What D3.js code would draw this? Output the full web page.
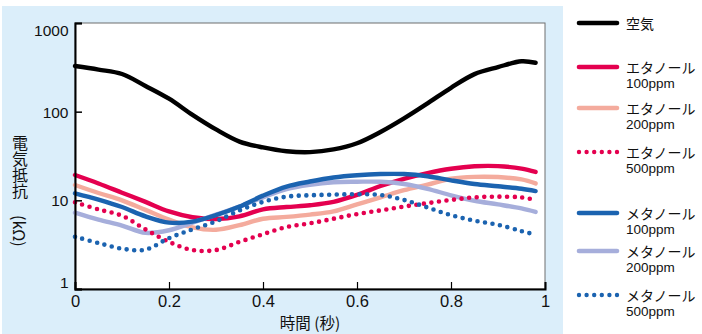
<!DOCTYPE html>
<html><head><meta charset="utf-8">
<script src="https://cdn.jsdelivr.net/npm/d3@7"></script>
<style>
html,body{margin:0;padding:0;background:#fff;}
svg{display:block;font-family:"Liberation Sans","Noto Sans CJK JP",sans-serif;}
.jp{font-family:"Noto Sans CJK JP","Liberation Sans",sans-serif;}
.vt{writing-mode:vertical-rl;text-orientation:mixed;}
</style></head>
<body><svg id="c" width="702" height="334"></svg>
<script>
// ---- data ----
const times = [0,0.05,0.1,0.15,0.2,0.25,0.3,0.35,0.4,0.45,0.5,0.55,0.6,0.65,0.7,0.75,0.8,0.85,0.9,0.95,0.98];
const air        = [327,298,266,195,140,92,63,46,39.5,35.8,35,37.5,44,59,84,124,186,265,318,370,356];
const ethanol100 = [19.3,15.5,12.2,9.6,7.5,6.45,6.15,6.6,7.9,8.4,8.8,9.6,11.5,14.5,17.5,20.3,22.7,24.2,24.3,22.8,20.9];
const ethanol200 = [14.9,12.1,10.0,7.8,6.05,4.95,4.65,5.25,6.2,6.5,6.9,7.5,9.0,10.8,13.0,15.0,17.5,18.4,18.3,17.2,15.5];
const ethanol500 = [9.5,7.9,6.7,4.7,3.4,2.75,2.75,3.4,4.15,5.0,5.5,6.2,7.0,7.7,8.5,9.3,10.1,10.8,11.0,10.8,10.1];
const methanol100 = [12.0,10.2,8.4,6.6,5.6,5.75,6.8,8.5,11.3,14.3,16.3,18.1,19.2,19.8,19.8,18.7,16.8,15.3,14.4,13.5,12.7];
const methanol200 = [7.25,6.05,5.2,4.3,4.6,5.6,6.9,8.5,10.8,13.4,15.0,16.0,16.2,16.2,15.3,13.5,11.4,9.9,9.0,8.1,7.4];
const methanol500 = [3.89,3.3,2.85,2.78,3.75,4.7,5.8,7.7,9.6,11.0,11.4,11.6,11.7,11.5,10.1,8.3,6.8,5.9,5.3,4.5,4.1];
const xTicks = [0,0.2,0.4,0.6,0.8,1];
const xTickLabels = ["0","0.2","0.4","0.6","0.8","1"];
const yTicks = [1,10,100,1000];
const yTickLabels = ["1","10","100","1000"];
const seriesNames = ["空気","エタノール","エタノール","エタノール","メタノール","メタノール","メタノール"];
const seriesSub = ["","100ppm","200ppm","500ppm","100ppm","200ppm","500ppm"];
const seriesColors = ["#000000","#e4004f","#f4ab9d","#e4004f","#1b63b0","#a6aedb","#1b63b0"];
const seriesDotted = [false,false,false,true,false,false,true];
const seriesValues = [air,ethanol100,ethanol200,ethanol500,methanol100,methanol200,methanol500];

// ---- layout ----
const svg = d3.select("#c");
const L=75, R=545, T=23, B=289;
svg.append("rect").attr("x",2).attr("y",6).attr("width",561).attr("height",328).attr("fill","#dbeefa");
svg.append("rect").attr("x",L).attr("y",T).attr("width",R-L).attr("height",B-T)
  .attr("fill","#fff").attr("stroke","#6f6f6f").attr("stroke-width",1);

const x = d3.scaleLinear().domain([0,1]).range([L,R]);
const y = d3.scaleLog().domain([1,1000]).range([B,T]);

// series
const drawOrder = [2,1,5,4,3,6,0];
const line = d3.line().x((d,i)=>x(times[i])).y(d=>y(d)).curve(d3.curveCatmullRom.alpha(0.5));
drawOrder.forEach(k=>{
  svg.append("path").datum(seriesValues[k]).attr("d",line)
    .attr("fill","none").attr("stroke",seriesColors[k])
    .attr("stroke-width", seriesDotted[k]?4.6:4.4)
    .attr("stroke-linecap","round").attr("stroke-linejoin","round")
    .attr("stroke-dasharray", seriesDotted[k]?"0 7.6":null);
});

// axes
const xAxis = d3.axisBottom(x).tickValues(xTicks).tickSize(-7).tickFormat((d,i)=>xTickLabels[i]);
const gx = svg.append("g").attr("transform",`translate(0,${B})`).call(xAxis);
gx.select(".domain").attr("stroke","#000").attr("stroke-width",2);
gx.selectAll(".tick line").attr("stroke","#000").attr("stroke-width",1.2);
gx.selectAll(".tick text").attr("y",17.5).attr("dy",0).attr("font-size",16.5).attr("fill","#111")
  .attr("font-family","Liberation Sans, sans-serif");

const yAxis = d3.axisLeft(y).tickValues(yTicks).tickSize(-7).tickFormat((d,i)=>yTickLabels[i]);
const gy = svg.append("g").attr("transform",`translate(${L},0)`).call(yAxis);
gy.select(".domain").attr("stroke","#000").attr("stroke-width",2);
gy.selectAll(".tick line").attr("stroke","#000").attr("stroke-width",1.5);
gy.selectAll(".tick text").attr("x",-6.5).attr("font-size",15.5).attr("fill","#111")
  .attr("font-family","Liberation Sans, sans-serif")
  .attr("dy",(d)=> d===1000? "0.8em" : d===1 ? "-0.1em" : "0.36em");

// axis titles
svg.append("text").attr("class","jp vt").attr("x",20).attr("y",135)
  .attr("font-size",16).attr("fill","#111").text("電気抵抗\u3000(kΩ)");
svg.append("text").attr("class","jp").attr("x",310).attr("y",329).attr("text-anchor","middle")
  .attr("font-size",15.5).attr("fill","#111").text("時間 (秒)");

// legend
const legLineY = [23,67,108,152,213,251,295];
seriesNames.forEach((n,k)=>{
  const ly = legLineY[k];
  svg.append("line").attr("x1",579).attr("x2",617).attr("y1",ly).attr("y2",ly)
    .attr("stroke",seriesColors[k]).attr("stroke-width",seriesDotted[k]?4.4:4.6)
    .attr("stroke-linecap","round")
    .attr("stroke-dasharray",seriesDotted[k]?"0 7.6":null);
  const t = svg.append("text").attr("x",626).attr("y",ly+5.5).attr("fill","#111");
  t.append("tspan").attr("class","jp").attr("font-size",14).text(n);
  if(seriesSub[k]){
    t.append("tspan").attr("x",626).attr("dy",15).attr("font-size",13.5)
      .attr("font-family","Liberation Sans, sans-serif").text(seriesSub[k]);
  }
});
</script></body></html>
